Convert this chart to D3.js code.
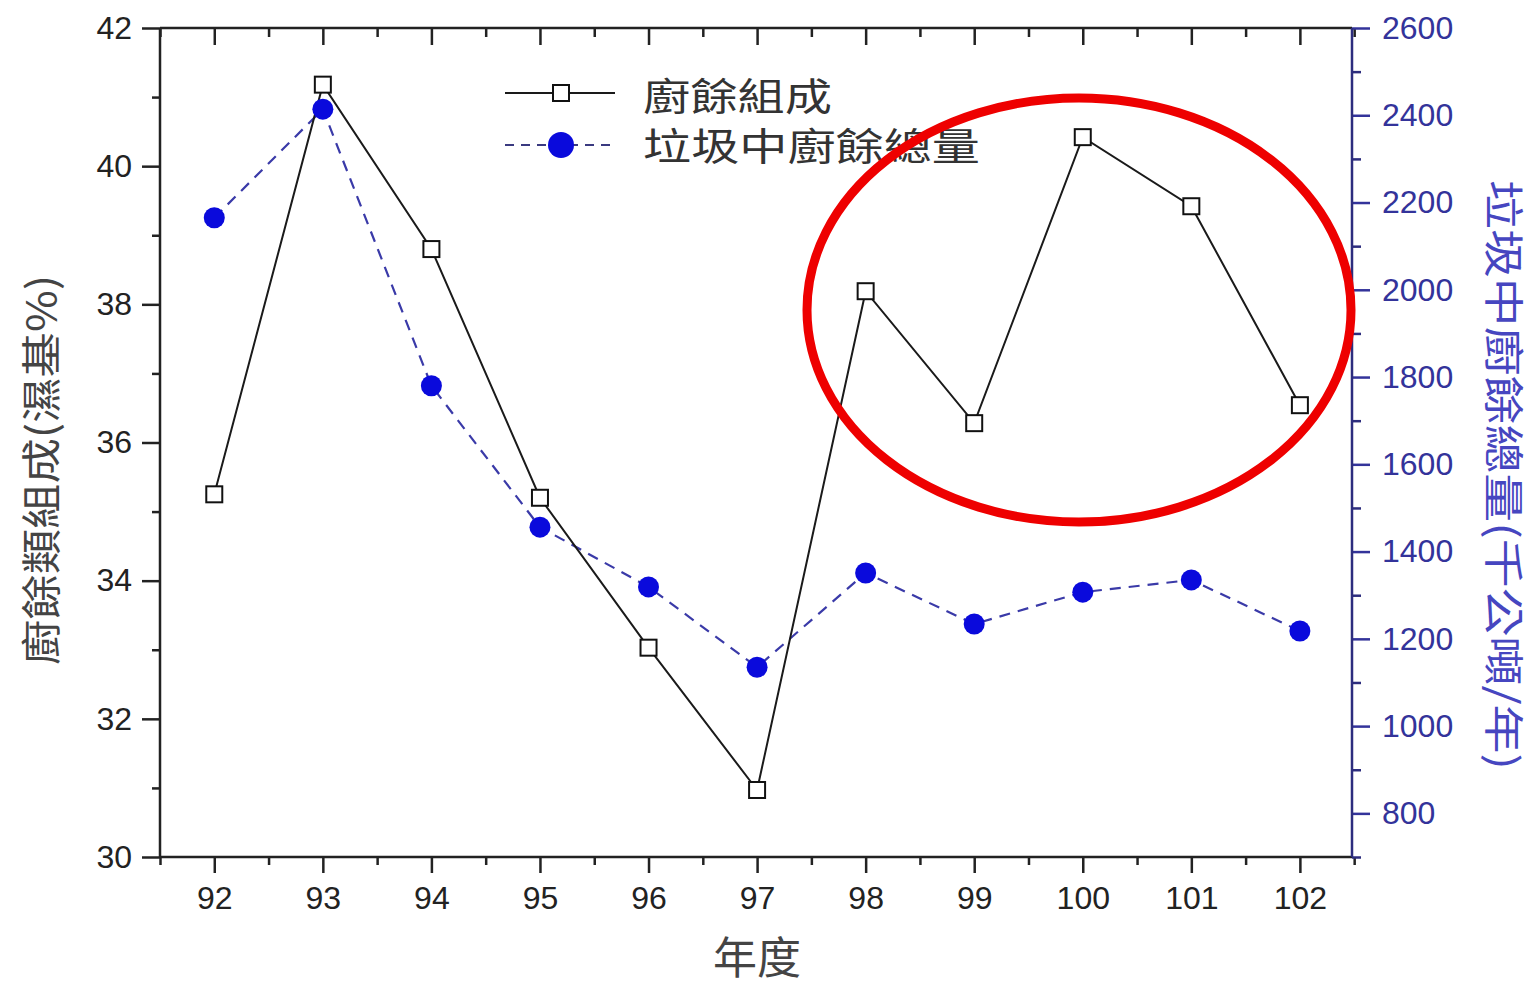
<!DOCTYPE html>
<html>
<head>
<meta charset="utf-8">
<script src="https://cdn.jsdelivr.net/npm/d3@7"></script>
<style>
  body { margin: 0; background: #fff; }
  svg { display: block; }
  text { font-family: "Liberation Sans", Arial, sans-serif; }
  .cjk { font-family: "Noto Sans CJK TC", "Noto Sans CJK SC", sans-serif; }
</style>
</head>
<body>
<svg id="chart" width="1540" height="989"></svg>
<script>
// data
const years = [92, 93, 94, 95, 96, 97, 98, 99, 100, 101, 102];
const foodShare = [35.25, 41.18, 38.8, 35.2, 33.03, 30.97, 38.19, 36.28, 40.42, 39.42, 36.54];
const foodTotal = [2165, 2414, 1780, 1456, 1319, 1135, 1351, 1234, 1307, 1335, 1218];
const leftTicks = [30, 32, 34, 36, 38, 40, 42];
const rightTicks = [800, 1000, 1200, 1400, 1600, 1800, 2000, 2200, 2400, 2600];
const seriesNames = ["廚餘組成", "垃圾中廚餘總量"];

const box = { left: 160, right: 1352, top: 28, bottom: 857 };
const navy = "#2d2d7e";

const svg = d3.select("#chart");

const x = d3.scaleLinear().domain([91.5, 102.48]).range([box.left, box.right]);
const yL = d3.scaleLinear().domain([30, 42]).range([box.bottom, box.top]);
const yR = d3.scaleLinear().domain([700, 2600]).range([box.bottom, box.top]);

const halfYears = d3.range(91.5, 103, 1);
const oddL = d3.range(31, 42, 2);
const minorR = d3.range(700, 2600, 200);

function styleAxis(g, color, fontSize) {
    g.select(".domain").remove();
    g.selectAll("line").attr("stroke", color).attr("stroke-width", 2.5);
    g.selectAll("text").attr("fill", color).style("font-size", fontSize + "px");
}

// bottom axis
svg.append("g")
    .attr("transform", `translate(0,${box.bottom})`)
    .call(d3.axisBottom(x).tickValues(halfYears).tickSize(8).tickFormat(""))
    .call(g => styleAxis(g, "#222", 32));
svg.append("g")
    .attr("transform", `translate(0,${box.bottom})`)
    .call(d3.axisBottom(x).tickValues(years).tickSize(16).tickPadding(13).tickFormat(d3.format("d")))
    .call(g => styleAxis(g, "#222", 32));

// top axis, ticks point inward
svg.append("g")
    .attr("transform", `translate(0,${box.top})`)
    .call(d3.axisBottom(x).tickValues(halfYears).tickSize(9).tickFormat(""))
    .call(g => styleAxis(g, "#222", 32));
svg.append("g")
    .attr("transform", `translate(0,${box.top})`)
    .call(d3.axisBottom(x).tickValues(years).tickSize(17).tickFormat(""))
    .call(g => styleAxis(g, "#222", 32));

// left axis
svg.append("g")
    .attr("transform", `translate(${box.left},0)`)
    .call(d3.axisLeft(yL).tickValues(oddL).tickSize(8).tickFormat(""))
    .call(g => styleAxis(g, "#222", 32));
svg.append("g")
    .attr("transform", `translate(${box.left},0)`)
    .call(d3.axisLeft(yL).tickValues(leftTicks).tickSize(18).tickPadding(10).tickFormat(d3.format("d")))
    .call(g => styleAxis(g, "#222", 32));

// right axis
svg.append("g")
    .attr("transform", `translate(${box.right},0)`)
    .call(d3.axisRight(yR).tickValues(minorR).tickSize(9).tickFormat(""))
    .call(g => styleAxis(g, navy, 32));
svg.append("g")
    .attr("transform", `translate(${box.right},0)`)
    .call(d3.axisRight(yR).tickValues(rightTicks).tickSize(18).tickPadding(12).tickFormat(d3.format("d")))
    .call(g => styleAxis(g, "#33339a", 32));

// frame
svg.append("line").attr("x1", box.left).attr("x2", box.right).attr("y1", box.top).attr("y2", box.top)
    .attr("stroke", "#222").attr("stroke-width", 2.5);
svg.append("line").attr("x1", box.left).attr("x2", box.right).attr("y1", box.bottom).attr("y2", box.bottom)
    .attr("stroke", "#222").attr("stroke-width", 2.5);
svg.append("line").attr("x1", box.left).attr("x2", box.left).attr("y1", box.top).attr("y2", box.bottom)
    .attr("stroke", "#222").attr("stroke-width", 2.5);
svg.append("line").attr("x1", box.right).attr("x2", box.right).attr("y1", box.top).attr("y2", box.bottom)
    .attr("stroke", navy).attr("stroke-width", 2.5);

// axis titles
svg.append("text")
    .attr("class", "cjk")
    .attr("transform", `translate(56,470) rotate(-90)`)
    .attr("text-anchor", "middle")
    .attr("textLength", 390).attr("lengthAdjust", "spacingAndGlyphs")
    .style("font-size", "40px").attr("fill", "#444")
    .text("廚餘類組成(濕基%)");

svg.append("text")
    .attr("class", "cjk")
    .attr("transform", `translate(1489,475) rotate(90)`)
    .attr("text-anchor", "middle")
    .attr("textLength", 590).attr("lengthAdjust", "spacingAndGlyphs")
    .style("font-size", "40px").attr("fill", "#4646c0")
    .text("垃圾中廚餘總量(千公噸/年)");

svg.append("text")
    .attr("class", "cjk")
    .attr("x", 757).attr("y", 974)
    .attr("text-anchor", "middle")
    .style("font-size", "44px").attr("fill", "#444")
    .text("年度");

// blue dashed series (right axis)
const lineR = d3.line().x((d, i) => x(years[i])).y(d => yR(d));
svg.append("path")
    .datum(foodTotal)
    .attr("d", lineR)
    .attr("fill", "none")
    .attr("stroke", "#3a3aa8")
    .attr("stroke-width", 2.2)
    .attr("stroke-dasharray", "11,8");

// black solid series (left axis)
const lineL = d3.line().x((d, i) => x(years[i])).y(d => yL(d));
svg.append("path")
    .datum(foodShare)
    .attr("d", lineL)
    .attr("fill", "none")
    .attr("stroke", "#1a1a1a")
    .attr("stroke-width", 2);

svg.selectAll(".dot")
    .data(foodTotal)
    .join("circle")
    .attr("class", "dot")
    .attr("cx", (d, i) => x(years[i]))
    .attr("cy", d => yR(d))
    .attr("r", 10.5)
    .attr("fill", "#0a0adc");

svg.selectAll(".sq")
    .data(foodShare)
    .join("rect")
    .attr("class", "sq")
    .attr("x", (d, i) => x(years[i]) - 8)
    .attr("y", d => yL(d) - 8)
    .attr("width", 16)
    .attr("height", 16)
    .attr("fill", "#fff")
    .attr("stroke", "#111")
    .attr("stroke-width", 2);

// legend
const legend = svg.append("g");
legend.append("line").attr("x1", 505).attr("x2", 615).attr("y1", 93).attr("y2", 93)
    .attr("stroke", "#1a1a1a").attr("stroke-width", 2);
legend.append("rect").attr("x", 553).attr("y", 85).attr("width", 16).attr("height", 16)
    .attr("fill", "#fff").attr("stroke", "#111").attr("stroke-width", 2);
legend.append("line").attr("x1", 505).attr("x2", 615).attr("y1", 145).attr("y2", 145)
    .attr("stroke", "#3a3a80").attr("stroke-width", 2).attr("stroke-dasharray", "9,7");
legend.append("circle").attr("cx", 561).attr("cy", 145).attr("r", 13).attr("fill", "#0a0adc");

legend.selectAll(".leg-text")
    .data(seriesNames)
    .join("text")
    .attr("class", "leg-text cjk")
    .attr("x", 643)
    .attr("y", (d, i) => 110 + i * 50)
    .attr("textLength", (d, i) => i === 0 ? 189 : 337)
    .attr("lengthAdjust", "spacingAndGlyphs")
    .style("font-size", "38px")
    .attr("fill", "#333")
    .text(d => d);

// red highlight ellipse
svg.append("ellipse")
    .attr("cx", 1079).attr("cy", 310)
    .attr("rx", 272).attr("ry", 212)
    .attr("fill", "none")
    .attr("stroke", "#ee0000")
    .attr("stroke-width", 9);
</script>
</body>
</html>
